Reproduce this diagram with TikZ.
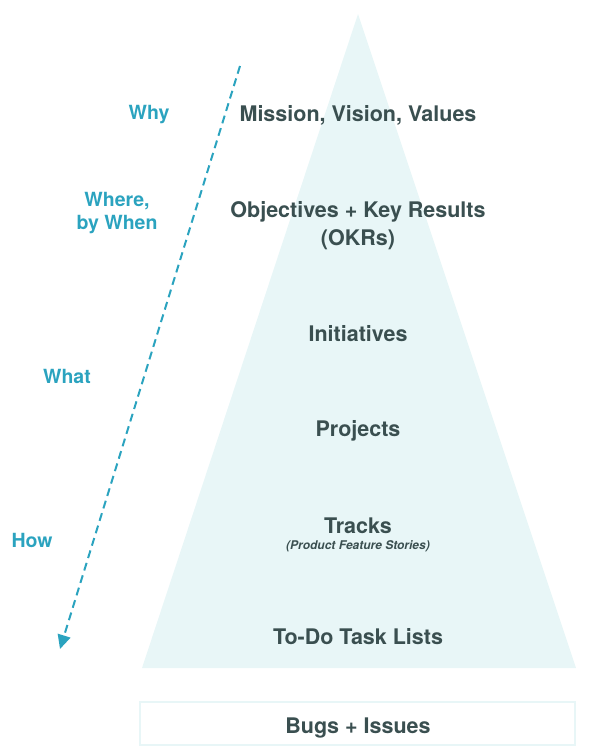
\documentclass[tikz,border=0pt]{standalone}
\usepackage{fontspec}
\setmainfont{TeX Gyre Heros}
\usetikzlibrary{arrows.meta}
\definecolor{slate}{HTML}{3A4F50}
\definecolor{teal}{HTML}{2BA3BF}
\definecolor{pale}{HTML}{E8F6F7}
\tikzset{
	level/.style={font=\bfseries\fontsize{21.5}{28}\selectfont, text=slate, align=center, inner sep=0},
	ask/.style={font=\bfseries\fontsize{19.5}{23}\selectfont, text=teal, align=center, inner sep=0},
}
\begin{document}
\begin{tikzpicture}[x=1pt,y=-1pt]
	\useasboundingbox (0,0) rectangle (604,754);
	\fill[pale] (358,14) -- (576,668) -- (142,668) -- cycle;
	\draw[pale, line width=1.5] (140,702) rectangle (575,745);
	\coordinate (top) at (240,66);
	\coordinate (bottom) at (60,649);
	\draw[teal, line width=2, dash pattern=on 8pt off 5pt, -{Triangle[length=14pt,width=13pt]}] (top) -- (bottom);
	\node (mission) at (358,115) [level] {Mission, Vision, Values};
	\node (okr) at (358,226) [level] {Objectives + Key Results\\(OKRs)};
	\node (init) at (358,334) [level] {Initiatives};
	\node (proj) at (358,431) [level] {Projects};
	\node (tracks) at (358,526) [level] {Tracks};
	\node (stories) at (358,546) [font=\bfseries\itshape\fontsize{12}{14}\selectfont, text=slate, inner sep=0] {(Product Feature Stories)};
	\node (todo) at (358,637) [level] {To-Do Task Lists};
	\node (bugs) at (358,728) [level] {Bugs + Issues};
	\node (why) at (149,115) [ask] {Why};
	\node (where) at (117,213) [ask] {Where,\\by When};
	\node (what) at (67,376) [ask] {What};
	\node (how) at (32,540) [ask] {How};
\end{tikzpicture}
\end{document}
